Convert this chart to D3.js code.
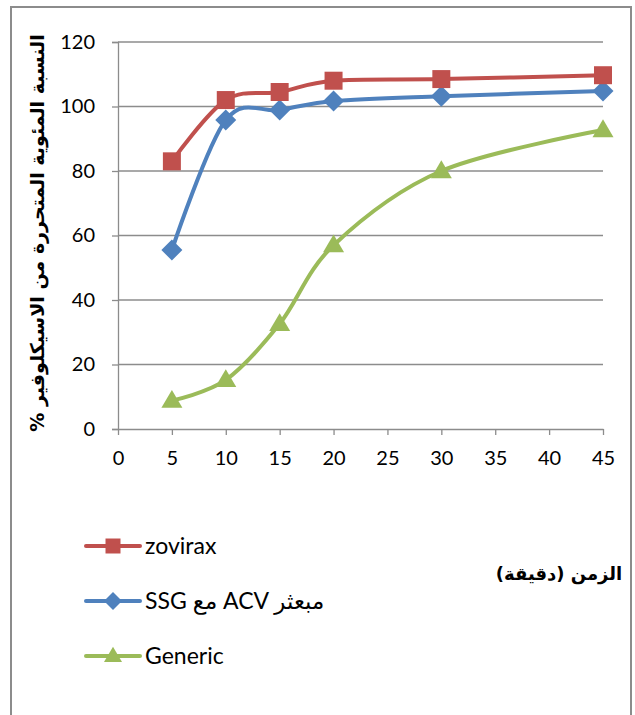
<!DOCTYPE html>
<html>
<head>
<meta charset="utf-8">
<script src="https://cdn.jsdelivr.net/npm/d3@7"></script>
<style>
  html, body { margin: 0; padding: 0; background: #fff; }
  svg { display: block; font-family: Lato, "Open Sans", "DejaVu Sans", sans-serif; }
</style>
</head>
<body>
<svg id="chart" width="635" height="715"></svg>
<script>
// Time points (minutes)
const times = [5, 10, 15, 20, 30, 45];
// Percentage of acyclovir released
const zovirax = [83, 102, 104.5, 108, 108.5, 109.7];
const ssgAcv = [55.5, 95.8, 98.9, 101.7, 103.2, 104.8];
const generic = [8.8, 15.2, 32.6, 57, 80, 92.7];

const xTicks = [0, 5, 10, 15, 20, 25, 30, 35, 40, 45];
const yTicks = [0, 20, 40, 60, 80, 100, 120];

const seriesNames = ["zovirax", "SSG مع ACV مبعثر", "Generic"];
const seriesColors = ["#C0504D", "#4F81BD", "#9BBB59"];
const seriesMarkers = ["square", "diamond", "triangle"];
const seriesValues = [zovirax, ssgAcv, generic];

const svg = d3.select("#chart");

// Outer frame
svg.append("rect")
  .attr("x", 11).attr("y", 7)
  .attr("width", 620).attr("height", 720)
  .attr("fill", "none").attr("stroke", "#8c8c8c").attr("stroke-width", 2);

const x = d3.scaleLinear().domain([0, 45]).range([118, 603]);
const y = d3.scaleLinear().domain([0, 120]).range([429, 42]);

// Horizontal gridlines
svg.append("g").selectAll("line")
  .data(yTicks.filter(d => d > 0))
  .join("line")
  .attr("x1", x(0)).attr("x2", x(45))
  .attr("y1", d => y(d)).attr("y2", d => y(d))
  .attr("stroke", "#8c8c8c").attr("stroke-width", 1.3);

// Y axis
const yAxis = svg.append("g")
  .attr("transform", `translate(${x(0)},0)`)
  .call(d3.axisLeft(y).tickValues(yTicks).tickSize(6).tickPadding(17));
yAxis.select(".domain").attr("stroke", "#8c8c8c").attr("stroke-width", 1.3);
yAxis.selectAll(".tick line").attr("stroke", "#8c8c8c").attr("stroke-width", 1.3);
yAxis.selectAll(".tick text")
  .attr("font-size", 20).attr("fill", "#000")
  .style("font-family", "Lato, 'Open Sans', sans-serif");

// X axis
const xAxis = svg.append("g")
  .attr("transform", `translate(0,${y(0)})`)
  .call(d3.axisBottom(x).tickValues(xTicks).tickSize(6).tickSizeOuter(0).tickPadding(16));
xAxis.select(".domain").attr("stroke", "#8c8c8c").attr("stroke-width", 1.3);
xAxis.selectAll(".tick line").attr("stroke", "#8c8c8c").attr("stroke-width", 1.3);
xAxis.selectAll(".tick text")
  .attr("font-size", 20).attr("fill", "#000")
  .style("font-family", "Lato, 'Open Sans', sans-serif");

// Marker shapes
function markerPath(type, size) {
  const h = size / 2;
  if (type === "square") return `M${-h},${-h}H${h}V${h}H${-h}Z`;
  if (type === "diamond") return `M0,${-h}L${h},0L0,${h}L${-h},0Z`;
  const th = size * 0.85;
  return `M0,${-th * 0.6}L${h},${th * 0.4}L${-h},${th * 0.4}Z`;
}
const markerSizes = { square: 18, diamond: 21, triangle: 21 };

const line = d3.line()
  .x((d, i) => x(times[i]))
  .y(d => y(d))
  .curve(d3.curveCardinal.tension(0));

// Draw from bottom series upward so zovirax sits on top
[2, 1, 0].forEach(s => {
  const g = svg.append("g");
  g.append("path")
    .datum(seriesValues[s])
    .attr("d", line)
    .attr("fill", "none")
    .attr("stroke", seriesColors[s])
    .attr("stroke-width", 4)
    .attr("stroke-linejoin", "round")
    .attr("stroke-linecap", "round");
  g.selectAll("path.m")
    .data(seriesValues[s])
    .join("path")
    .attr("class", "m")
    .attr("transform", (d, i) => `translate(${x(times[i])},${y(d)})`)
    .attr("d", markerPath(seriesMarkers[s], markerSizes[seriesMarkers[s]]))
    .attr("fill", seriesColors[s]);
});

// Legend
const legend = svg.append("g");
seriesNames.forEach((name, i) => {
  const ly = 546 + i * 55;
  legend.append("line")
    .attr("x1", 86).attr("x2", 140)
    .attr("y1", ly).attr("y2", ly)
    .attr("stroke", seriesColors[i]).attr("stroke-width", 4)
    .attr("stroke-linecap", "round");
  legend.append("path")
    .attr("transform", `translate(113,${ly})`)
    .attr("d", markerPath(seriesMarkers[i], seriesMarkers[i] === "square" ? 15 : 18))
    .attr("fill", seriesColors[i]);
  legend.append("text")
    .attr("x", 145).attr("y", ly + 8)
    .attr("font-size", 23)
    .attr("fill", "#000")
    .attr("direction", "ltr")
    .text(name);
});

// Axis titles
svg.append("text")
  .attr("x", 559).attr("y", 580)
  .attr("text-anchor", "middle")
  .attr("direction", "rtl")
  .attr("font-size", 18)
  .attr("font-weight", "bold")
  .attr("fill", "#000")
  .style("font-family", "'DejaVu Sans', 'Noto Sans', sans-serif")
  .text("الزمن (دقيقة)");

svg.append("text")
  .attr("transform", "translate(44,233) rotate(-90)")
  .attr("text-anchor", "middle")
  .attr("direction", "rtl")
  .attr("font-size", 19)
  .attr("font-weight", "bold")
  .attr("fill", "#000")
  .style("font-family", "'DejaVu Sans', 'Noto Sans', sans-serif")
  .text("النسبة المئوية المتحررة من الاسيكلوفير %");
</script>
</body>
</html>
